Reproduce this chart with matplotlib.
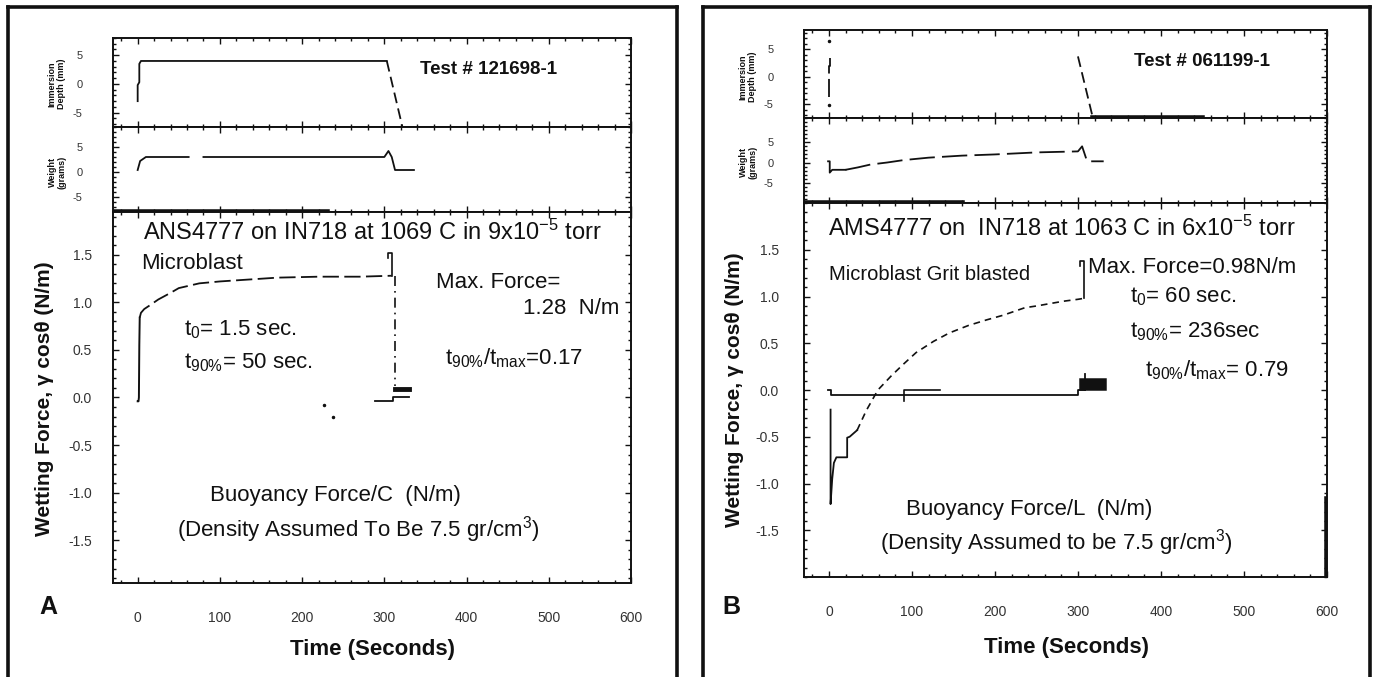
# wetting balance traces for two AMS4777 on IN718 tests (panels A and B)

import numpy as np
import matplotlib
matplotlib.use("Agg")
import matplotlib.pyplot as plt
from matplotlib.lines import Line2D
from matplotlib.ticker import MultipleLocator

plt.rcParams['font.family'] = ['Liberation Sans', 'DejaVu Sans']
plt.rcParams['mathtext.fontset'] = 'custom'
plt.rcParams['mathtext.rm'] = 'Liberation Sans'
plt.rcParams['mathtext.default'] = 'regular'

nan = np.nan

# ---- test 121698-1 (panel A) ----
depth_a_t = [0, 0, 2, 2, 4, 303, 322]
depth_a_mm = [-3.0, -0.2, 0.3, 3.5, 4.0, 4.0, -7.5]

weight_a_t = [0, 3, 10, 62, 70, 80, 300, 305, 309, 313, 336]
weight_a_g = [0.4, 2.2, 3.0, 3.0, nan, 3.0, 3.0, 4.2, 3.0, 0.4, 0.4]
weight_a_floor_t = [-30, 230]
weight_a_floor_g = [-8, -8]

force_a_t = [0, 1.0, 1.5, 2.0, 2.5, 4, 8, 15, 25, 40, 50, 75, 100, 135, 170, 220, 270, 309]
force_a = [-0.04, -0.04, 0.0, 0.55, 0.84, 0.89, 0.93, 0.97, 1.03, 1.10, 1.15, 1.20, 1.22, 1.24, 1.26, 1.27, 1.27, 1.28]
drop_a_t = [313, 313]
drop_a_f = [1.28, 0.12]
stub_a_t = [313, 330]
stub_a_f = [0.09, 0.09]
base_a_t = [289, 311, 311, 330]
base_a_f = [-0.04, -0.04, 0.01, 0.01]
stray_a_t = [227, 238]
stray_a_f = [-0.08, -0.2]

# ---- test 061199-1 (panel B) ----
depth_b_t = [0, 0, 1.5, 1.5]
depth_b_mm = [-3.7, 2.0, 2.0, 3.5]
dots_b_t = [0, 0]
dots_b_mm = [-5.2, 6.5]
pull_b_t = [300, 318, 450]
pull_b_mm = [3.7, -7.5, -7.5]

weight_b_t = [-1, 1, 1, 4, 20, 35, 50, 70, 90, 120, 160, 200, 250, 300, 305, 311, 331]
weight_b_g = [0.3, 0.3, -2.5, -1.8, -1.8, -1.2, -0.5, 0.0, 0.6, 1.2, 1.7, 2.0, 2.5, 2.75, 4.0, 0.3, 0.3]
weight_b_floor_t = [-30, 160]
weight_b_floor_g = [-10, -10]

force_b_t = [2, 2, 4, 6, 9, 22, 22, 25, 34, 45, 59, 75, 89, 105, 126, 145, 168, 190, 210,
             236, 251, 270, 283, 300, 307]
force_b = [-0.21, -1.22, -0.95, -0.78, -0.72, -0.72, -0.51, -0.50, -0.43, -0.22, 0.0, 0.15,
           0.27, 0.40, 0.52, 0.61, 0.69, 0.75, 0.80, 0.88, 0.90, 0.93, 0.95, 0.97, 0.98]
base_b_t = [-1, 3, 3, 300, 300, 309]
base_b_f = [0.0, 0.0, -0.05, -0.05, 0.0, 0.0]
stub_b_t = [309, 327]
stub_b_f = [0.06, 0.06]
spike_b_t = [309, 309]
spike_b_f = [0.0, 0.17]
short_b_t = [90, 90, 134]
short_b_f = [-0.12, 0.0, 0.0]
edge_b_t = [600, 600]
edge_b_f = [-1.17, -2.0]

max_force_a = 1.28
max_force_b = 0.98
time_ticks = [0, 100, 200, 300, 400, 500, 600]
force_ticks = [-1.5, -1.0, -0.5, 0.0, 0.5, 1.0, 1.5]
small_ticks = [-5, 0, 5]

W, H = 1373, 677
fig = plt.figure(figsize=(W / 100, H / 100), dpi=100)
INK = '#111111'


def px_axes(left, top, right, bottom):
  return fig.add_axes([left / W, 1 - bottom / H, (right - left) / W, (bottom - top) / H])


def ftext(x, y, s, **kw):
  kw.setdefault('color', INK)
  kw.setdefault('va', 'center')
  return fig.text(x / W, 1 - y / H, s, **kw)


def frame_line(x0, y0, x1, y1):
  fig.add_artist(Line2D([x0 / W, x1 / W], [1 - y0 / H, 1 - y1 / H], transform=fig.transFigure,
                        color=INK, lw=2.6, solid_capstyle='projecting'))


def style(ax, ylim, yminor, yticks, fmt, ylabsize, ypad, xlabels):
  ax.set_xlim(-30, 600)
  ax.set_ylim(*ylim)
  ax.xaxis.set_major_locator(MultipleLocator(100))
  ax.xaxis.set_minor_locator(MultipleLocator(20))
  ax.yaxis.set_minor_locator(MultipleLocator(yminor))
  ax.set_yticks(yticks)
  ax.set_yticklabels([fmt.format(v) for v in yticks])
  ax.tick_params(which='both', direction='in', top=True, right=True, color=INK, width=1)
  ax.tick_params(which='major', length=4)
  ax.tick_params(which='minor', length=2)
  ax.tick_params(axis='y', labelsize=ylabsize, pad=ypad, labelcolor='#333333')
  if xlabels:
    ax.set_xticks(time_ticks)
    ax.set_xticklabels([str(v) for v in time_ticks])
    ax.tick_params(axis='x', labelsize=10, pad=20, labelcolor='#333333')
  else:
    ax.tick_params(axis='x', labelbottom=False)
  for s in ax.spines.values():
    s.set_linewidth(1.4)
    s.set_color(INK)


def leader(ax, t, f, top):
  # bracket from the force maximum up to the "Max. Force" note
  ax.plot([t - 4, t - 4, t, t], [top - 0.05, top, top, f], color=INK, lw=1.2)


# ================= panel A =================
frame_line(8, 7, 8, 680)
frame_line(8, 7, 677, 7)
frame_line(677, 7, 677, 680)

a_top = px_axes(113, 38, 631, 127)
a_wt = px_axes(113, 127, 631, 212)
a_main = px_axes(113, 212, 631, 583)

style(a_top, (-7.5, 8), 1, small_ticks, '{:d}', 8, 22, False)
style(a_wt, (-8, 9), 1, small_ticks, '{:d}', 8, 22, False)
style(a_main, (-1.95, 1.95), 0.1, force_ticks, '{:.1f}', 10, 15, True)

a_top.plot(depth_a_t[:6], depth_a_mm[:6], color=INK, lw=1.3)
a_top.plot(depth_a_t[5:], depth_a_mm[5:], color=INK, lw=1.3, dashes=(6, 3))

a_wt.plot(weight_a_t, weight_a_g, color=INK, lw=1.3)
a_wt.plot(weight_a_floor_t, weight_a_floor_g, color=INK, lw=4)

a_main.plot(force_a_t[:5], force_a[:5], color=INK, lw=1.4)
a_main.plot(force_a_t[4:], force_a[4:], color=INK, lw=1.3, dashes=(9, 3))
a_main.plot(drop_a_t, drop_a_f, color=INK, lw=1.2, dashes=(6, 3, 1, 3))
a_main.plot(stub_a_t, stub_a_f, color=INK, lw=3.5)
a_main.plot(base_a_t, base_a_f, color=INK, lw=1.3)
a_main.plot(stray_a_t, stray_a_f, ls='none', marker='.', ms=3, color=INK)
leader(a_main, force_a_t[-1], max_force_a, 1.52)

ftext(420, 70, 'Test # 121698-1', fontsize=13.5, fontweight='bold')
ftext(372, 232, r'ANS4777 on IN718 at 1069 C in 9x10$^{-5}$ torr', fontsize=17, ha='center')
ftext(141, 263, 'Microblast', fontsize=16)
ftext(436, 282, 'Max. Force=', fontsize=16)
ftext(619, 308, f'{max_force_a:.2f}  N/m', fontsize=16, ha='right')
ftext(184, 330, r'$t_0$= 1.5 sec.', fontsize=16)
ftext(184, 363, r'$t_{90\%}$= 50 sec.', fontsize=16)
ftext(445, 358, r'$t_{90\%}/t_{max}$=0.17', fontsize=16)
ftext(335, 495, 'Buoyancy Force/C  (N/m)', fontsize=16, ha='center')
ftext(358, 530, r'(Density Assumed To Be 7.5 gr/cm$^3$)', fontsize=16, ha='center')
ftext(48, 607, 'A', fontsize=18, fontweight='bold', ha='center')
ftext(372, 650, 'Time (Seconds)', fontsize=16, fontweight='bold', ha='center')
ftext(45, 399, 'Wetting Force, γ cosθ (N/m)', fontsize=15, fontweight='bold',
      rotation=90, ha='center')
ftext(57, 84, 'Immersion\nDepth (mm)', fontsize=6.5, fontweight='bold', rotation=90,
      ha='center', linespacing=1.1)
ftext(57, 172, 'Weight\n(grams)', fontsize=6.5, fontweight='bold', rotation=90,
      ha='center', linespacing=1.1)

# ================= panel B =================
frame_line(703, 7, 703, 680)
frame_line(703, 7, 1370, 7)
frame_line(1370, 7, 1370, 680)

b_top = px_axes(804, 30, 1327, 118)
b_wt = px_axes(804, 118, 1327, 203)
b_main = px_axes(804, 203, 1327, 577)

style(b_top, (-7.5, 8.5), 1, small_ticks, '{:d}', 8, 22, False)
style(b_wt, (-10, 11), 1, small_ticks, '{:d}', 8, 22, False)
style(b_main, (-2.0, 2.0), 0.1, force_ticks, '{:.1f}', 10, 18, True)

b_top.plot(depth_b_t, depth_b_mm, color=INK, lw=1.3, dashes=(10, 3))
b_top.plot(dots_b_t, dots_b_mm, ls='none', marker='.', ms=3, color=INK)
b_top.plot(pull_b_t[:2], pull_b_mm[:2], color=INK, lw=1.3, dashes=(6, 3))
b_top.plot(pull_b_t[1:], pull_b_mm[1:], color=INK, lw=4)

b_wt.plot(weight_b_t[:5], weight_b_g[:5], color=INK, lw=1.3)
b_wt.plot(weight_b_t[4:], weight_b_g[4:], color=INK, lw=1.3, dashes=(14, 4))
b_wt.plot(weight_b_floor_t, weight_b_floor_g, color=INK, lw=4)

b_main.plot(force_b_t[:9], force_b[:9], color=INK, lw=1.3)
b_main.plot(force_b_t[8:], force_b[8:], color=INK, lw=1.2, dashes=(4, 3))
b_main.plot(base_b_t, base_b_f, color=INK, lw=1.3)
b_main.plot(stub_b_t, stub_b_f, color=INK, lw=9)
b_main.plot(spike_b_t, spike_b_f, color=INK, lw=1.3)
b_main.plot(short_b_t, short_b_f, color=INK, lw=1.2)
b_main.plot(edge_b_t, edge_b_f, color=INK, lw=4)
leader(b_main, force_b_t[-1], max_force_b, 1.38)

ftext(1134, 62, 'Test # 061199-1', fontsize=13.5, fontweight='bold')
ftext(1062, 228, r'AMS4777 on  IN718 at 1063 C in 6x10$^{-5}$ torr', fontsize=17, ha='center')
ftext(829, 275, 'Microblast Grit blasted', fontsize=14.5)
ftext(1088, 268, f'Max. Force={max_force_b:.2f}N/m', fontsize=16)
ftext(1130, 297, r'$t_0$= 60 sec.', fontsize=16)
ftext(1130, 332, r'$t_{90\%}$= 236sec', fontsize=16)
ftext(1145, 370, r'$t_{90\%}/t_{max}$= 0.79', fontsize=16)
ftext(1029, 510, 'Buoyancy Force/L  (N/m)', fontsize=16, ha='center')
ftext(1056, 543, r'(Density Assumed to be 7.5 gr/cm$^3$)', fontsize=16, ha='center')
ftext(731, 607, 'B', fontsize=18, fontweight='bold', ha='center')
ftext(1066, 648, 'Time (Seconds)', fontsize=16, fontweight='bold', ha='center')
ftext(734, 390, 'Wetting Force, γ cosθ (N/m)', fontsize=15, fontweight='bold',
      rotation=90, ha='center')
ftext(748, 77, 'Immersion\nDepth (mm)', fontsize=6.5, fontweight='bold', rotation=90,
      ha='center', linespacing=1.1)
ftext(748, 162, 'Weight\n(grams)', fontsize=6.5, fontweight='bold', rotation=90,
      ha='center', linespacing=1.1)

fig.savefig('out.png', dpi=100)
